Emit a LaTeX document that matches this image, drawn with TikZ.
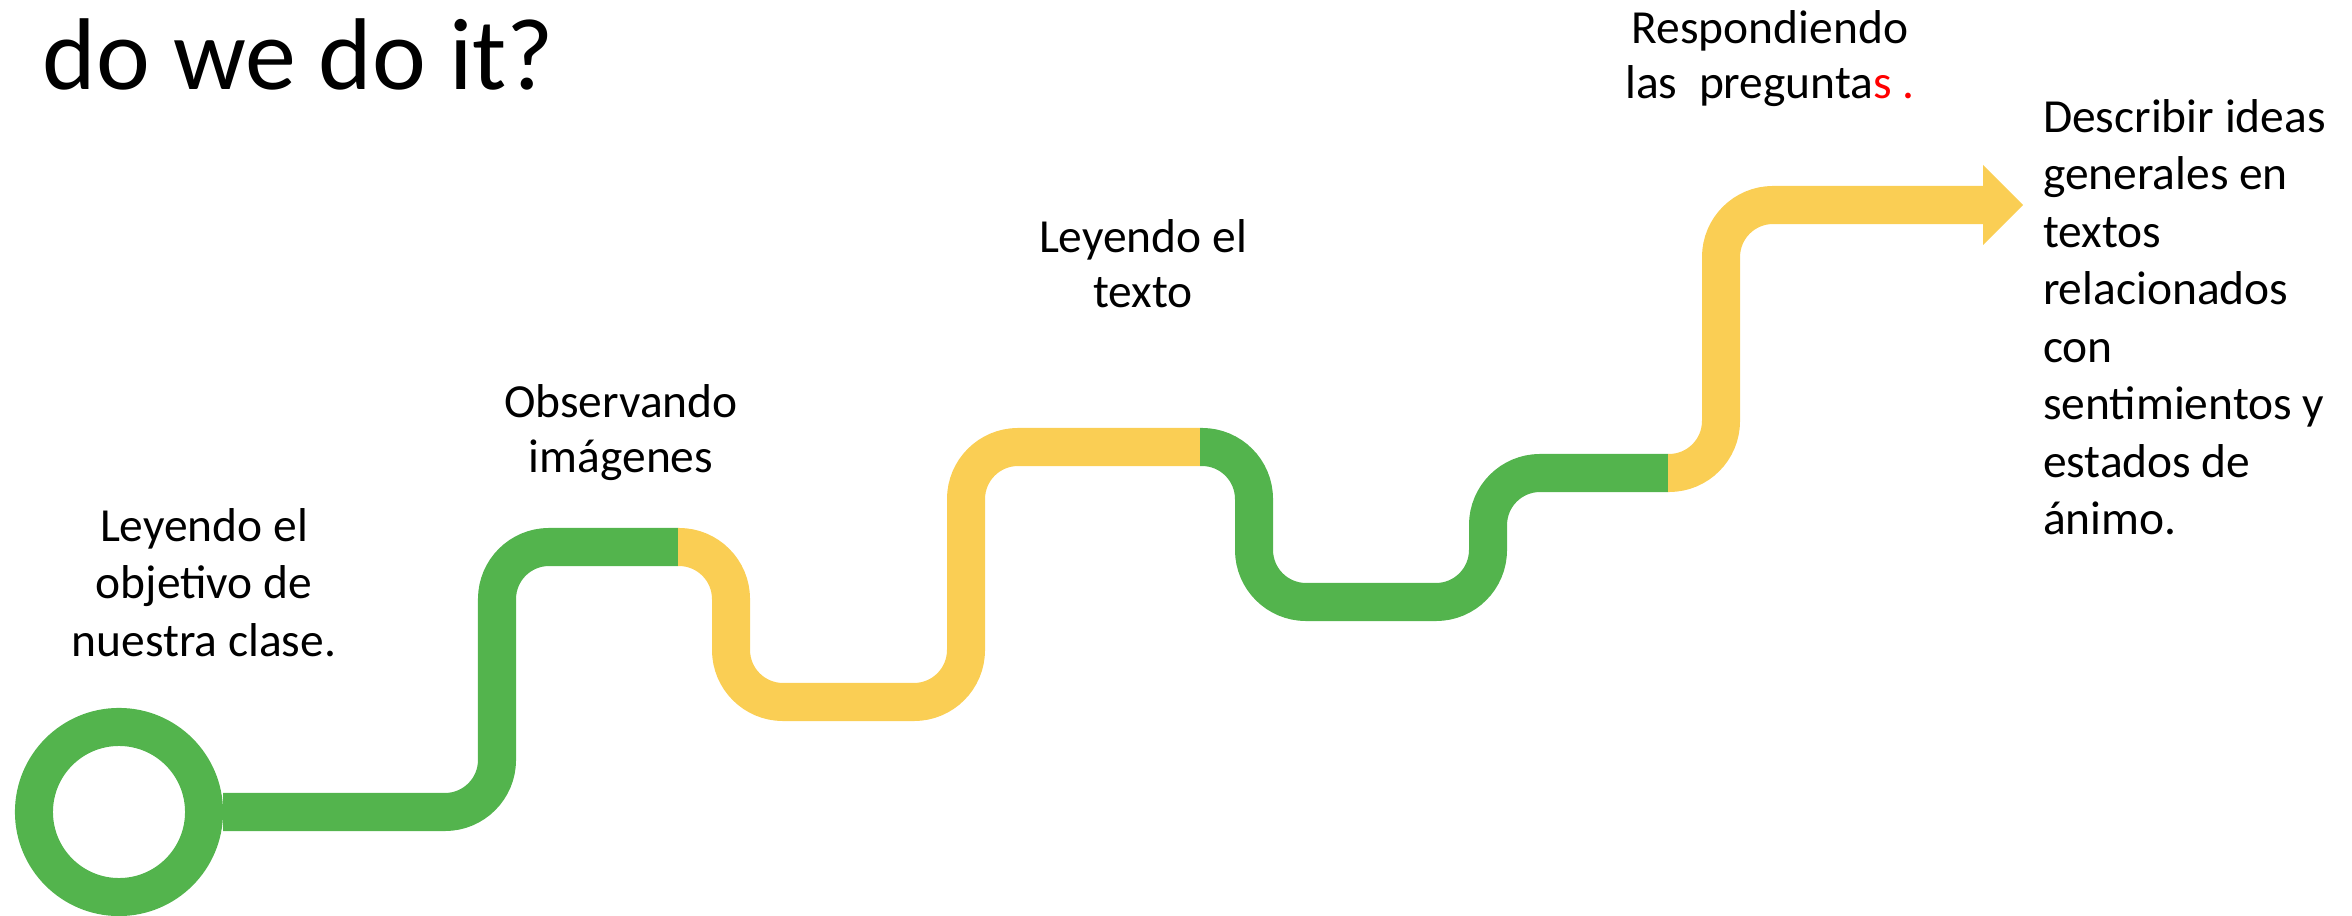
\documentclass[tikz,border=0pt]{standalone}
\usepackage{fontspec}
\setmainfont{Carlito}
\usetikzlibrary{calc}
\definecolor{pgreen}{RGB}{83,180,77}
\definecolor{pyellow}{RGB}{250,206,84}
\definecolor{pred}{RGB}{255,0,0}
\newcommand\tstrut{\rule{0pt}{11.45pt}}
\tikzset{
  pathseg/.style={line width=0.38cm, line cap=butt, line join=miter, rounded corners=0.52cm},
  lbl/.style={inner sep=0pt, outer sep=0pt, anchor=north, align=center, font=\fontsize{13.5}{15.65}\selectfont},
  lbltall/.style={lbl, font=\fontsize{13.5}{16.36}\selectfont},
}
\begin{document}
\begin{tikzpicture}[x=0.01cm, y=-0.01cm]
\useasboundingbox (0,0) rectangle (2352,916);
% title
\node[inner sep=0pt, anchor=base west, font=\fontsize{29}{34}\selectfont] (title) at (42,90) {do we do it?};
% start ring
\node[circle, draw=pgreen, line width=0.38cm, minimum size=1.70cm, inner sep=0pt] (start) at (119,812) {};
% junction coordinates
\coordinate (j1) at (678,547);
\coordinate (j2) at (1200,447);
\coordinate (j3) at (1668,473);
\coordinate (j4) at (1984,205);
\coordinate (tip) at (2023,205);
% path segments
\draw[pathseg, draw=pgreen] (start.east) -- (497,812) -- (497,547) -- (j1);
\draw[pathseg, draw=pyellow] (j1) -- (731,547) -- (731,702) -- (966,702) -- (966,447) -- (j2);
\draw[pathseg, draw=pgreen] (j2) -- (1254,447) -- (1254,602) -- (1488,602) -- (1488,473) -- (j3);
\draw[pathseg, draw=pyellow] (j3) -- (1721,473) -- (1721,205) -- (j4);
\fill[pyellow] ($(j4)+(-1,-40)$) -- (tip) -- ($(j4)+(-1,40)$) -- cycle;
% labels
\node[lbltall] (t1) at (204,500.75) {\tstrut Leyendo el\\\tstrut objetivo de\\\tstrut nuestra clase.};
\node[lbl] (t2) at (621,376.75) {\tstrut Observando\\\tstrut imágenes};
\node[lbl] (t3) at (1143,211.75) {\tstrut Leyendo el\\\tstrut texto};
\node[lbl] (t4) at (1770,2.75) {\tstrut Respondiendo\\\tstrut las\ \ pregunta{\color{pred}s .}};
\node[lbltall, anchor=north west, align=left] (t5) at (2043,91.75) {\tstrut Describir ideas\\\tstrut generales en\\\tstrut textos\\\tstrut relacionados\\\tstrut con\\\tstrut sentimientos y\\\tstrut estados de\\\tstrut ánimo.};
\end{tikzpicture}
\end{document}
